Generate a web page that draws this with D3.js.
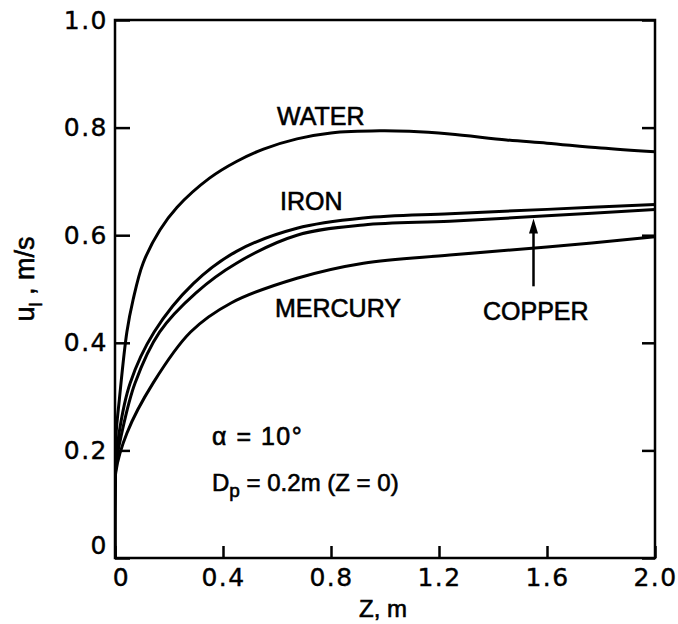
<!DOCTYPE html>
<html>
<head>
<meta charset="utf-8">
<script src="https://cdn.jsdelivr.net/npm/d3@7"></script>
<style>
  html, body { margin: 0; padding: 0; background: #fff; }
  svg { display: block; }
  text { fill: #000; }
</style>
</head>
<body>
<svg id="chart" width="678" height="624"></svg>
<script>
// Liquid velocity u_l along the column for four liquids
const zWater   = [0, 0.002, 0.004, 0.016, 0.044, 0.067, 0.104, 0.167, 0.23, 0.35, 0.45, 0.55, 0.674, 0.8, 0.98, 1.09, 1.24, 1.45, 1.6, 1.8, 2.0];
const uWater   = [0, 0.17, 0.23, 0.294, 0.42, 0.48, 0.548, 0.61, 0.652, 0.706, 0.737, 0.760, 0.779, 0.79, 0.794, 0.793, 0.788, 0.777, 0.771, 0.762, 0.755];

const zIron    = [0, 0.003, 0.015, 0.056, 0.145, 0.29, 0.45, 0.674, 0.92, 1.24, 1.6, 2.0];
const uIron    = [0, 0.17, 0.232, 0.325, 0.42, 0.51, 0.57, 0.613, 0.632, 0.640, 0.648, 0.657];

const zCopper  = [0, 0.003, 0.025, 0.074, 0.165, 0.30, 0.45, 0.674, 0.92, 1.24, 1.6, 2.0];
const uCopper  = [0, 0.17, 0.232, 0.325, 0.42, 0.493, 0.548, 0.600, 0.619, 0.626, 0.636, 0.648];

const zMercury = [0, 0.003, 0.044, 0.141, 0.28, 0.43, 0.674, 0.92, 1.24, 1.6, 2.0];
const uMercury = [0, 0.16, 0.232, 0.325, 0.42, 0.474, 0.52, 0.548, 0.563, 0.578, 0.597];

const xTicks = [0, 0.4, 0.8, 1.2, 1.6, 2.0];
const yTicks = [0, 0.2, 0.4, 0.6, 0.8, 1.0];

// Pointer for the COPPER label
const arrowZ = 1.55, arrowFrom = 0.505, arrowTo = 0.633;

const svg = d3.select("#chart");
const mL = 115, mR = 655, mT = 20, mB = 558;
const x = d3.scaleLinear().domain([0, 2]).range([mL, mR]);
const y = d3.scaleLinear().domain([0, 1]).range([mB, mT]);

const numFont = "'DejaVu Sans', sans-serif";
const txtFont = "'Liberation Sans', Arial, sans-serif";

// Frame
svg.append("rect")
  .attr("x", mL).attr("y", mT)
  .attr("width", mR - mL).attr("height", mB - mT)
  .attr("fill", "none").attr("stroke", "#000").attr("stroke-width", 2.5);

// Axes (ticks pointing inward)
const fmtY = d => d === 0 ? "0" : d3.format(".1f")(d);
const gL = svg.append("g").attr("transform", `translate(${mL},0)`)
  .call(d3.axisLeft(y).tickValues(yTicks).tickSize(-15).tickPadding(7).tickFormat(fmtY));
const gR = svg.append("g").attr("transform", `translate(${mR},0)`)
  .call(d3.axisRight(y).tickValues(yTicks).tickSize(-13).tickFormat(""));
const gB = svg.append("g").attr("transform", `translate(0,${mB})`)
  .call(d3.axisBottom(x).tickValues(xTicks).tickSize(-12).tickPadding(10).tickFormat(fmtY));

[gL, gR, gB].forEach(g => {
  g.select(".domain").remove();
  g.selectAll(".tick line").attr("stroke", "#000").attr("stroke-width", 2.5);
  g.selectAll(".tick text")
    .attr("font-family", numFont).attr("font-size", 25)
    .attr("letter-spacing", 1.5)
    .attr("fill", "#000").attr("stroke", "#000").attr("stroke-width", 0.4);
});
// the origin labels sit slightly clear of the corner
gL.selectAll(".tick").filter(d => d === 0).select("text").attr("y", -13);
gB.selectAll(".tick").filter(d => d === 0).select("text").attr("x", 6);

// Curves
const line = d3.line().x(d => x(d[0])).y(d => y(d[1])).curve(d3.curveCatmullRom.alpha(0.5));
const series = [
  [zWater, uWater], [zIron, uIron], [zCopper, uCopper], [zMercury, uMercury]
];
svg.append("defs").append("clipPath").attr("id", "plot")
  .append("rect").attr("x", mL).attr("y", mT)
  .attr("width", mR - mL).attr("height", mB - mT);
svg.append("g").attr("clip-path", "url(#plot)")
  .selectAll("path").data(series).join("path")
  .attr("d", s => line(d3.zip(s[0], s[1])))
  .attr("fill", "none").attr("stroke", "#000")
  .attr("stroke-width", 3).attr("stroke-linejoin", "round");

// Copper pointer
svg.append("line")
  .attr("x1", x(arrowZ)).attr("x2", x(arrowZ))
  .attr("y1", y(arrowFrom)).attr("y2", y(arrowTo) + 12)
  .attr("stroke", "#000").attr("stroke-width", 2.5);
svg.append("path")
  .attr("d", `M${x(arrowZ)},${y(arrowTo) + 1} l-4.5,15 l9,0 Z`)
  .attr("fill", "#000");

// Curve labels
const lab = (t, px, py) => svg.append("text")
  .attr("x", px).attr("y", py).text(t)
  .attr("font-family", txtFont).attr("font-size", 25)
  .attr("stroke", "#000").attr("stroke-width", 0.6);
lab("WATER", 277, 125);
lab("IRON", 280, 210);
lab("MERCURY", 275, 317);
lab("COPPER", 483, 320);

// Conditions
const a = svg.append("text").attr("x", 212).attr("y", 445)
  .attr("font-family", txtFont).attr("font-size", 25)
  .attr("letter-spacing", 1.5)
  .attr("stroke", "#000").attr("stroke-width", 0.6);
a.text("α = 10°");
const b = svg.append("text").attr("x", 212).attr("y", 491)
  .attr("font-family", txtFont).attr("font-size", 24)
  .attr("stroke", "#000").attr("stroke-width", 0.6);
b.append("tspan").text("D");
b.append("tspan").attr("dy", 6).attr("font-size", 19).text("p");
b.append("tspan").attr("dy", -6).text(" = 0.2m (Z = 0)");

// Axis titles
svg.append("text").attr("x", 383).attr("y", 617)
  .attr("text-anchor", "middle")
  .attr("font-family", txtFont).attr("font-size", 24)
  .attr("stroke", "#000").attr("stroke-width", 0.6)
  .text("Z, m");
const yt = svg.append("text")
  .attr("transform", "translate(34,279) rotate(-90)")
  .attr("text-anchor", "middle")
  .attr("font-family", txtFont).attr("font-size", 27)
  .attr("stroke", "#000").attr("stroke-width", 0.6);
yt.append("tspan").text("u");
yt.append("tspan").attr("dy", 8).attr("font-size", 18).text("l");
yt.append("tspan").attr("dy", -8).text(" ,  m/s");
</script>
</body>
</html>
